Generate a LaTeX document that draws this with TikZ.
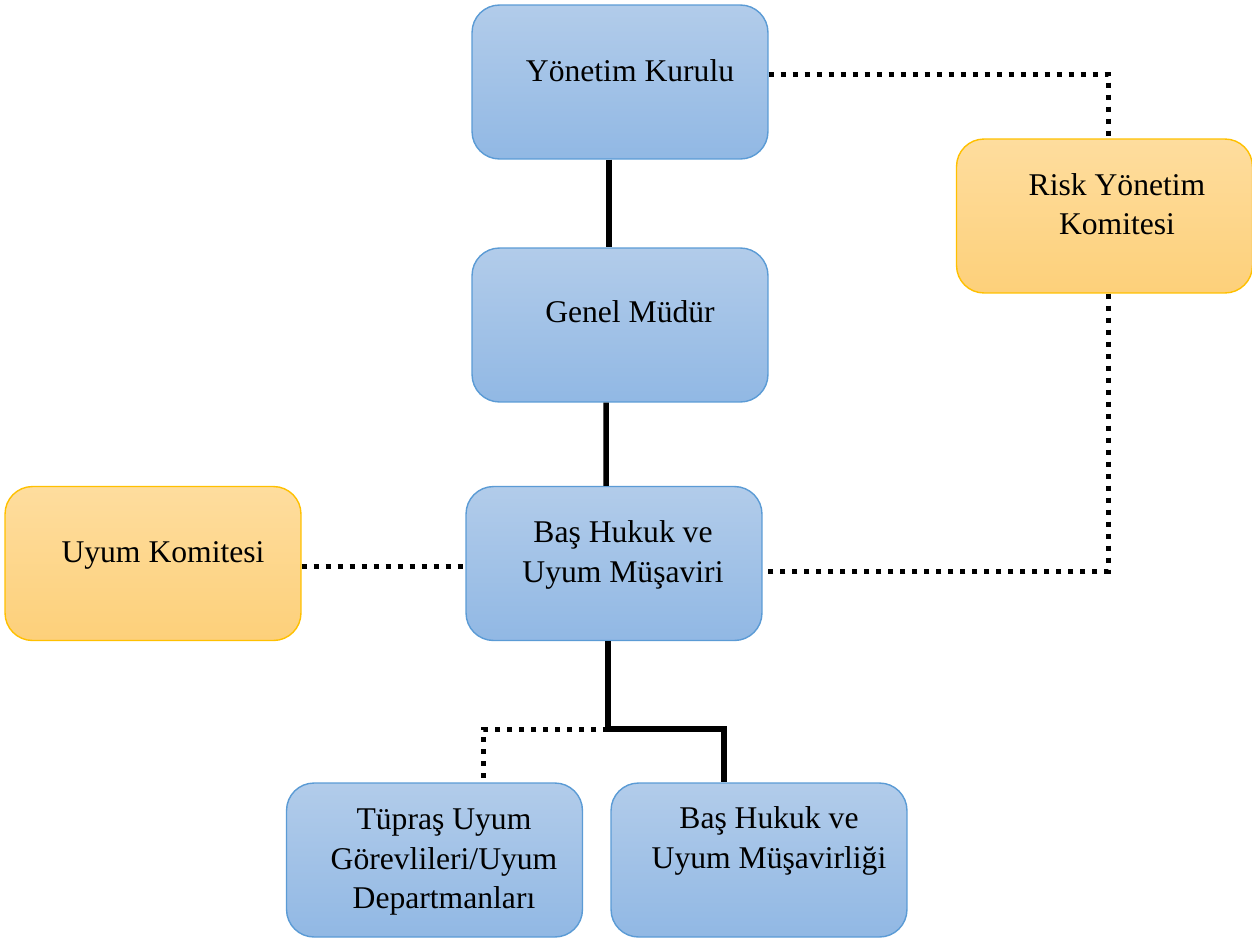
\documentclass[tikz,border=0pt]{standalone}
\usepackage{fontspec}
\setmainfont{Liberation Serif}
\usepackage{xcolor}
\usepackage{tikz}

\definecolor{bluetop}{RGB}{178,204,234}
\definecolor{bluebot}{RGB}{145,184,228}
\definecolor{blueline}{RGB}{91,155,213}
\definecolor{goldtop}{RGB}{254,221,158}
\definecolor{goldbot}{RGB}{253,208,122}
\definecolor{goldline}{RGB}{255,192,0}

\begin{document}
\begin{tikzpicture}[x=0.02cm, y=-0.02cm,
    box/.style={draw=blueline, top color=bluetop, bottom color=bluebot, line width=0.8pt,
      rounded corners=0.55cm, minimum width=5.92cm, minimum height=3.08cm},
    goldbox/.style={box, draw=goldline, top color=goldtop, bottom color=goldbot},
    txt/.style={font=\fontsize{18}{22.4}\selectfont, align=center, inner sep=0pt},
    solidline/.style={line width=0.11cm},
    dotline/.style={line width=0.1cm, dash pattern=on 0.1cm off 0.14cm}]
            \useasboundingbox (0,0) rectangle (1252,938);
            % Boxes
            \node[box] (yk) at (620,82) {};
            \node[txt] (yktxt) at (630,71) {Yönetim Kurulu};
            \node[box] (gm) at (620,325) {};
            \node[txt] (gmtxt) at (630,312) {Genel Müdür};
            \node[box] (bh) at (614,563.5) {};
            \node[txt] (bhtxt) at (623,555) {Baş Hukuk ve\\Uyum Müşaviri};
            \node[goldbox] (uk) at (153,563.5) {};
            \node[txt] (uktxt) at (163,555) {Uyum Komitesi};
            \node[goldbox] (rk) at (1104.5,216) {};
            \node[txt] (rktxt) at (1117,204) {Risk Yönetim\\Komitesi};
            \node[box] (tu) at (434.5,860) {};
            \node[txt] (tutxt) at (444,862) {Tüpraş Uyum\\Görevlileri/Uyum\\Departmanları};
            \node[box] (bm) at (759,860) {};
            \node[txt] (bmtxt) at (769,841) {Baş Hukuk ve\\Uyum Müşavirliği};
            % Solid lines
            \draw[solidline] ([xshift=-0.22cm]yk.south) -- ([xshift=-0.22cm]gm.north);
            \draw[solidline] ([xshift=-0.28cm]gm.south) -- ([xshift=-0.16cm]bh.north);
            \coordinate (jn) at ([xshift=-0.12cm,yshift=-1.76cm]bh.south);
            \draw[solidline] ([xshift=-0.12cm]bh.south) -- (jn) -| ([xshift=-0.7cm]bm.north);
            % Dotted lines
            \draw[dotline] (jn) -| ([xshift=0.99cm]tu.north);
            \draw[dotline] ([yshift=-0.05cm]uk.east) -- ([yshift=-0.05cm]uk.east -| bh.west);
            \draw[dotline] ([yshift=0.16cm]yk.east) -| ([xshift=0.07cm]rk.north);
            \draw[dotline] ([xshift=0.07cm]rk.south) |- ([yshift=-0.15cm]bh.east);
\end{tikzpicture}
\end{document}
